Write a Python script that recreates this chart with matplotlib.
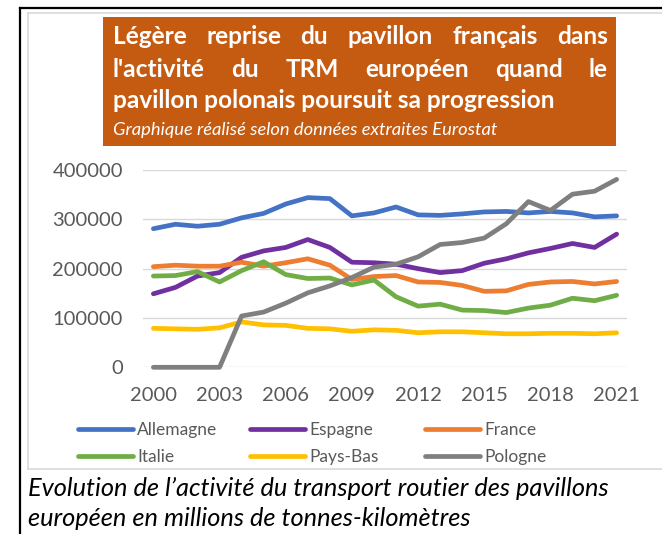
import matplotlib
matplotlib.use("Agg")
import matplotlib.pyplot as plt
from matplotlib.patches import Rectangle
from matplotlib.lines import Line2D

# data (millions de tonnes-km)
years = list(range(2000, 2022))
allemagne = [281000, 290000, 286000, 290000, 303000, 312000, 331000, 344000, 342000, 307000, 313000,
             325000, 309000, 308000, 311000, 315000, 316000, 313000, 316000, 313000, 305000, 307000]
espagne = [149000, 162000, 185000, 192000, 223000, 236000, 243000, 259000, 243000, 213000, 212000,
           209000, 200000, 192000, 196000, 211000, 220000, 232000, 241000, 251000, 243000, 270000]
france = [204000, 207000, 205000, 205000, 213000, 205000, 212000, 220000, 207000, 178000, 184000,
          186000, 173000, 172000, 166000, 154000, 155000, 168000, 173000, 174000, 169000, 174000]
italie = [185000, 186000, 194000, 173000, 196000, 214000, 188000, 180000, 181000, 167000, 177000,
          143000, 124000, 128000, 116000, 115000, 111000, 120000, 126000, 140000, 135000, 146000]
pays_bas = [79000, 78000, 77000, 80000, 92000, 86000, 85000, 79000, 78000, 73000, 76000,
            75000, 70000, 72000, 72000, 70000, 68000, 68000, 69000, 69000, 68000, 70000]
pologne = [0, 0, 0, 0, 104000, 112000, 130000, 151000, 165000, 182000, 203000,
           209000, 224000, 249000, 253000, 262000, 291000, 336000, 318000, 351000, 357000, 381000]

series = [("Allemagne", allemagne, "#4472C4"),
          ("Espagne", espagne, "#7030A0"),
          ("France", france, "#ED7D31"),
          ("Italie", italie, "#70AD47"),
          ("Pays-Bas", pays_bas, "#FFC000"),
          ("Pologne", pologne, "#7F7F7F")]

title_lines = ["Légère reprise du pavillon français dans",
               "l'activité du TRM européen quand le",
               "pavillon polonais poursuit sa progression"]
subtitle = "Graphique réalisé selon données extraites Eurostat"
caption = ["Evolution de l\u2019activité du transport routier des pavillons",
           "européen en millions de tonnes-kilomètres"]

W, H = 662, 534
plt.rcParams['font.family'] = ['Lato', 'DejaVu Sans']

fig = plt.figure(figsize=(W / 100, H / 100), dpi=100)


def fx(x):
    return x / W


def fy(y):
    return 1 - y / H


# frames
fig.add_artist(Line2D([fx(20), 1], [fy(7.5), fy(7.5)], color='black', lw=1.6))
fig.add_artist(Line2D([fx(20), fx(20)], [fy(7.5), 0], color='black', lw=1.6))
fig.add_artist(Line2D([fx(27.5), 1], [fy(12.5), fy(12.5)], color='#d9d9d9', lw=1.2))
fig.add_artist(Line2D([fx(27.5), fx(27.5)], [fy(12.5), fy(469)], color='#d9d9d9', lw=1.2))
fig.add_artist(Line2D([fx(27.5), 1], [fy(469), fy(469)], color='#d9d9d9', lw=1.2))

# title box
fig.add_artist(Rectangle((fx(103), fy(145.5)), fx(616) - fx(103), fy(17) - fy(145.5),
                         transform=fig.transFigure, facecolor='#C55A11', edgecolor='none'))

renderer = fig.canvas.get_renderer()


def justify(words, x0, x1, y, **kw):
    texts = [fig.text(fx(x0), fy(y), w, va='baseline', ha='left', **kw) for w in words]
    widths = [t.get_window_extent(renderer).width for t in texts]
    gap = (x1 - x0 - sum(widths)) / (len(words) - 1)
    x = x0
    for t, w in zip(texts, widths):
        t.set_x(fx(x))
        x += w + gap


tkw = dict(color='white', fontweight='bold', fontsize=17.6)
justify(title_lines[0].split(), 113, 608, 44, **tkw)
justify(title_lines[1].split(), 113, 608, 77, **tkw)
fig.text(fx(113), fy(108), title_lines[2], va='baseline', **tkw)
fig.text(fx(113), fy(135), subtitle, va='baseline', color='white', style='italic', fontsize=13.2)

# chart
ax = fig.add_axes([fx(143), fy(367.3), fx(627) - fx(143), fy(170) - fy(367.3)])
lines = []
for name, vals, col in series:
    ln, = ax.plot(years, vals, color=col, lw=3.4, label=name, clip_on=False,
                  solid_capstyle='round', solid_joinstyle='round', zorder=3)
    lines.append(ln)

ax.set_xlim(1999.53, 2021.47)
ax.set_ylim(0, 400000)
ax.set_yticks(range(0, 400001, 100000))
ax.set_xticks(years[::3])
ax.grid(axis='y', color='#d9d9d9', lw=1.0)
ax.set_axisbelow(True)
for s in ax.spines.values():
    s.set_visible(False)
ax.tick_params(axis='both', length=0, labelsize=14.5, labelcolor='#595959')
ax.tick_params(axis='y', pad=14.5)
ax.tick_params(axis='x', pad=14)

# legend, three columns of two
col_x = [78, 250, 425]
for c in range(3):
    leg = fig.legend([lines[c], lines[c + 3]], [series[c][0], series[c + 3][0]],
                     loc='center left', bbox_to_anchor=(fx(col_x[c]), fy(443.5)),
                     frameon=False, fontsize=12.5, handlelength=3.15, handletextpad=0.25,
                     labelspacing=0.68, borderpad=0, borderaxespad=0)
    for t in leg.get_texts():
        t.set_color('#595959')

# caption
ckw = dict(va='baseline', style='italic', fontsize=18.3, color='black')
fig.text(fx(28), fy(496.5), caption[0], **ckw)
fig.text(fx(28), fy(525.5), caption[1], **ckw)

fig.savefig("out.png", dpi=100)
